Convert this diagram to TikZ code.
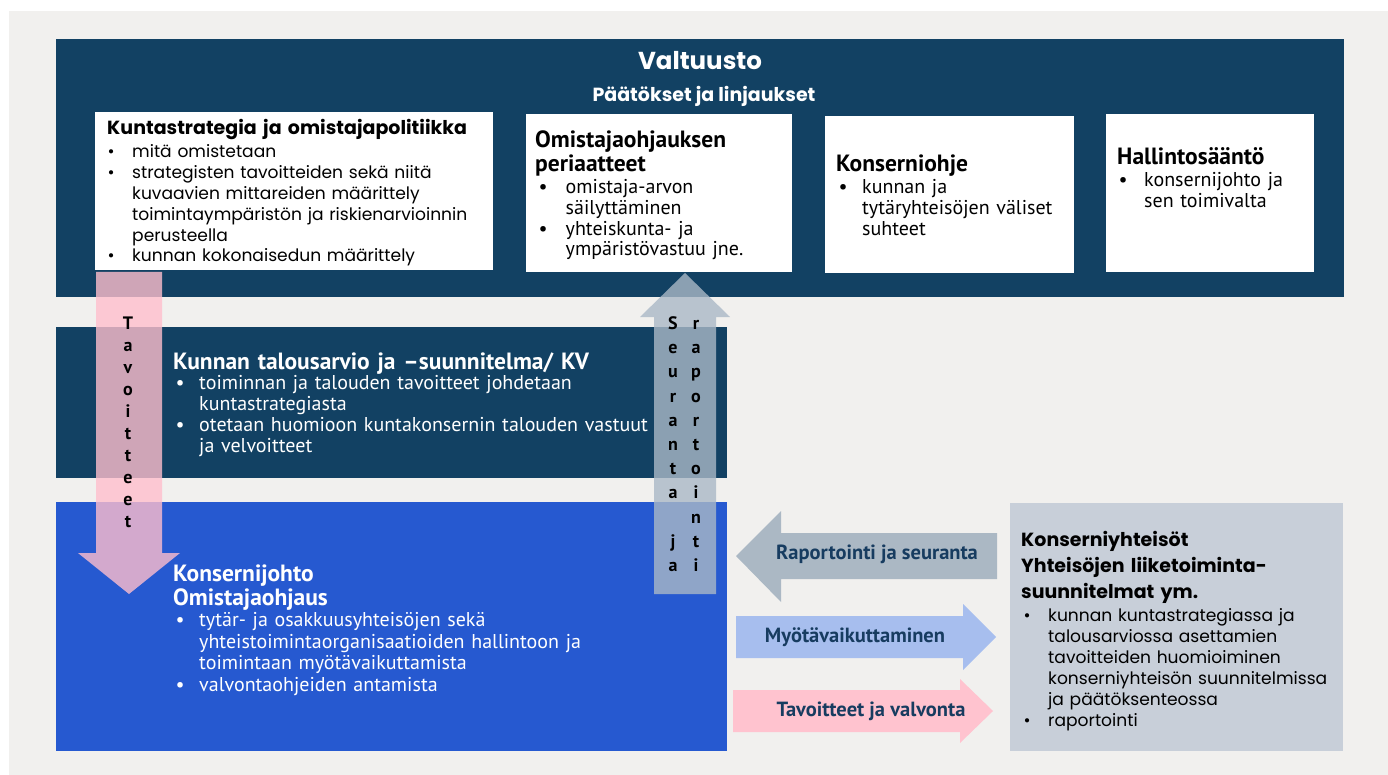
\documentclass[tikz,border=0pt]{standalone}
\usepackage{fontspec}
\setmainfont{Poppins}
\newfontfamily\cond{PT Sans}
\definecolor{bggray}{HTML}{F1F0EE}
\definecolor{navy}{HTML}{124163}
\definecolor{bandblue}{HTML}{2659D0}
\definecolor{boxgray}{HTML}{C8CFD9}
\definecolor{pinkarr}{RGB}{255,190,205}
\definecolor{greyarr}{RGB}{170,184,198}
\definecolor{repgray}{HTML}{ABB8C4}
\definecolor{myoblue}{HTML}{A7BEEE}
\definecolor{tavpink}{HTML}{FFC3CF}
\definecolor{labnavy}{HTML}{173C60}
\newcommand\bu[2]{\makebox[#1][l]{•}#2}
\newcommand\cn[2]{\hspace*{#1}#2}
\tikzset{
  band/.style={fill=navy},
  wbox/.style={fill=white},
  txt/.style={anchor=base west, inner sep=0pt, align=left, text width=#1},
  phead/.style={font=\bfseries\fontsize{19}{24}\selectfont},
  pbody/.style={font=\fontsize{17.1}{20.8}\selectfont},
  chead/.style={font=\cond\bfseries\fontsize{23.5}{24}\selectfont},
  cbody/.style={font=\cond\fontsize{20}{20.6}\selectfont},
  vlet/.style={anchor=base, inner sep=0pt, align=center, text width=20pt, font=\cond\bfseries\fontsize{18}{#1}\selectfont},
  arrlab/.style={anchor=center, inner sep=0pt, text=labnavy, font=\cond\bfseries\fontsize{20.5}{22}\selectfont},
}
\begin{document}
\begin{tikzpicture}[x=1pt,y=-1pt]
\useasboundingbox (0,0) rectangle (1388,775);
\fill[white] (0,0) rectangle (1388,775);
\fill[bggray] (9,11) rectangle (1388,775);
% bands
\fill[band] (56,39) rectangle (1344,297);
\fill[band] (56,327) rectangle (727,478);
\fill[bandblue] (56,502) rectangle (727,751);
\fill[boxgray] (1010,503) rectangle (1343,751);
% white boxes
\fill[wbox] (95,112) rectangle (493,270);
\fill[wbox] (526,114) rectangle (792,272);
\fill[wbox] (825,116) rectangle (1074,273);
\fill[wbox] (1106,114) rectangle (1314,272);
% vertical arrows
\fill[pinkarr, opacity=0.8] (96,272) -- (162,272) -- (162,553) -- (180,553) -- (129,594) -- (78,553) -- (96,553) -- cycle;
\fill[greyarr, opacity=0.8] (654,594) -- (716,594) -- (716,317) -- (730,317) -- (685,273) -- (640,317) -- (654,317) -- cycle;
% horizontal arrows
\fill[repgray] (997,533) -- (781,533) -- (781,511) -- (736,556) -- (781,602) -- (781,579) -- (997,579) -- cycle;
\fill[myoblue] (736,616) -- (963,616) -- (963,604) -- (996,637) -- (963,670) -- (963,658) -- (736,658) -- cycle;
\fill[tavpink] (733,690) -- (960,690) -- (960,679) -- (993,711) -- (960,743) -- (960,732) -- (733,732) -- cycle;
% titles
\node[anchor=base, inner sep=0pt, text=white, font=\bfseries\fontsize{24.5}{28}\selectfont] (title) at (700,69.5) {Valtuusto};
\node[anchor=base, inner sep=0pt, text=white, font=\bfseries\fontsize{19}{22}\selectfont] (subtitle) at (704,102) {Päätökset ja linjaukset};
% box 1
\node[txt=390pt, phead] (b1h) at (107,135) {Kuntastrategia ja omistajapolitiikka};
\node[txt=390pt, pbody] (b1b) at (107.5,158) {\bu{24.5pt}{mitä omistetaan}\\
\bu{24.5pt}{strategisten tavoitteiden sekä niitä}\\
\cn{24.5pt}{kuvaavien mittareiden määrittely}\\
\cn{24.5pt}{toimintaympäristön ja riskienarvioinnin}\\
\cn{24.5pt}{perusteella}\\
\bu{24.5pt}{kunnan kokonaisedun määrittely}};
% box 2
\node[txt=250pt, chead] (b2h) at (535,148) {Omistajaohjauksen\\periaatteet};
\node[txt=250pt, cbody] (b2b) at (538.5,194) {\bu{27pt}{omistaja-arvon}\\
\cn{27pt}{säilyttäminen}\\
\bu{27pt}{yhteiskunta- ja}\\
\cn{27pt}{ympäristövastuu jne.}};
% box 3
\node[txt=240pt, chead] (b3h) at (836,172) {Konserniohje};
\node[txt=240pt, cbody] (b3b) at (838.5,194) {\bu{23.5pt}{kunnan ja}\\
\cn{23.5pt}{tytäryhteisöjen väliset}\\
\cn{23.5pt}{suhteet}};
% box 4
\node[txt=200pt, chead] (b4h) at (1117,165) {Hallintosääntö};
\node[txt=200pt, cbody] (b4b) at (1118.5,187) {\bu{25.5pt}{konsernijohto ja}\\
\cn{25.5pt}{sen toimivalta}};
% band 2
\node[txt=540pt, chead, text=white] (kh) at (173,369.5) {Kunnan talousarvio ja –suunnitelma/ KV};
\node[txt=540pt, cbody, text=white, font=\cond\fontsize{20}{21}\selectfont] (kb) at (175.5,389.5) {\bu{23.5pt}{toiminnan ja talouden tavoitteet johdetaan}\\
\cn{23.5pt}{kuntastrategiasta}\\
\bu{23.5pt}{otetaan huomioon kuntakonsernin talouden vastuut}\\
\cn{23.5pt}{ja velvoitteet}};
% band 3
\node[txt=540pt, chead, text=white] (jh) at (173,581) {Konsernijohto\\Omistajaohjaus};
\node[txt=540pt, cbody, text=white, font=\cond\fontsize{20}{21.7}\selectfont] (jb) at (175.5,626.5) {\bu{23.5pt}{tytär- ja osakkuusyhteisöjen sekä}\\
\cn{23.5pt}{yhteistoimintaorganisaatioiden hallintoon ja}\\
\cn{23.5pt}{toimintaan myötävaikuttamista}\\
\bu{23.5pt}{valvontaohjeiden antamista}};
% right box
\node[txt=330pt, phead, font=\bfseries\fontsize{19}{26}\selectfont] (rh) at (1021,546) {Konserniyhteisöt\\Yhteisöjen liiketoiminta-\\suunnitelmat ym.};
\node[txt=330pt, pbody, font=\fontsize{17.1}{21}\selectfont] (rb) at (1023.5,621) {\bu{24.5pt}{kunnan kuntastrategiassa ja}\\
\cn{24.5pt}{talousarviossa asettamien}\\
\cn{24.5pt}{tavoitteiden huomioiminen}\\
\cn{24.5pt}{konserniyhteisön suunnitelmissa}\\
\cn{24.5pt}{ja päätöksenteossa}\\
\bu{24.5pt}{raportointi}};
% vertical letters
\node[vlet=22.1] (tav) at (128,329) {T\\a\\v\\o\\i\\t\\t\\e\\e\\t};
\node[vlet=24.2] (seu) at (673,329.5) {S\\e\\u\\r\\a\\n\\t\\a\\\mbox{}\\j\\a};
\node[vlet=24.2] (rap) at (696,329.5) {r\\a\\p\\o\\r\\t\\o\\i\\n\\t\\i};
% arrow labels
\node[arrlab] (l1) at (877,554) {Raportointi ja seuranta};
\node[arrlab] (l2) at (855,637) {Myötävaikuttaminen};
\node[arrlab] (l3) at (871,711) {Tavoitteet ja valvonta};
\end{tikzpicture}
\end{document}
